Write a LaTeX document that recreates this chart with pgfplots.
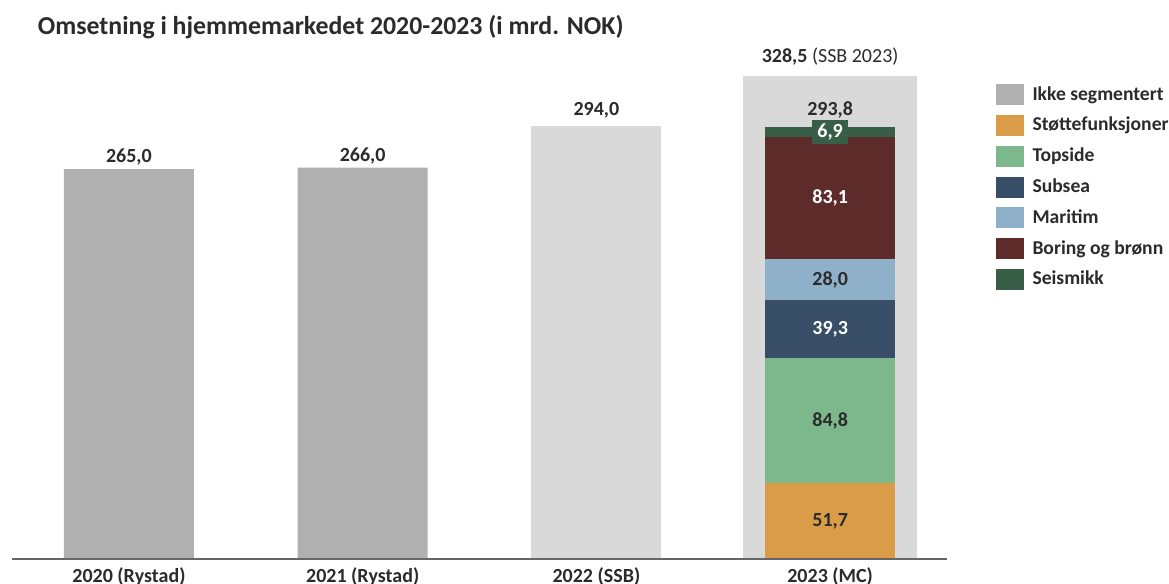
\documentclass[border=0pt]{standalone}
\usepackage{fontspec}
\setmainfont{Carlito}
\usepackage{pgfplots}
\pgfplotsset{compat=1.18}
\definecolor{gA}{HTML}{B0B0B0}
\definecolor{gB}{HTML}{D9D9D9}
\definecolor{stotte}{HTML}{DA9C48}
\definecolor{topside}{HTML}{7DB88C}
\definecolor{subsea}{HTML}{374E66}
\definecolor{maritim}{HTML}{8EB0C9}
\definecolor{boring}{HTML}{5E2B2B}
\definecolor{seismikk}{HTML}{385E48}
\definecolor{txt}{HTML}{2B2B2B}

\pgfplotsset{
  base/.style={
    scale only axis, width=467.5pt, height=253.85pt,
    xmin=-0.5, xmax=3.5, ymin=0, ymax=345, clip=false,
    font=\bfseries\fontsize{10}{12}\selectfont,
  },
  lbl/.style={draw=none, mark=none, nodes near coords,
    point meta=explicit symbolic},
  sq/.style={legend image code/.code={\fill[##1] (0pt,-5.25pt) rectangle (14pt,5.25pt);}},
}

\begin{document}
\begin{tikzpicture}
% grey totals and the SSB 2023 background bar
\begin{axis}[base, hide axis]
\addplot[ybar, bar shift=0pt, bar width=0.556, fill=gA, draw=none,
  nodes near coords, point meta=explicit symbolic,
  every node near coord/.append style={anchor=base, inner sep=0pt, yshift=3.2pt, text=txt}]
  coordinates {(0,265.0) [265,0] (1,266.0) [266,0]};
\addplot[ybar, bar shift=0pt, bar width=0.556, fill=gB, draw=none,
  nodes near coords, point meta=explicit symbolic,
  every node near coord/.append style={anchor=base, inner sep=0pt, yshift=5.6pt, text=txt}]
  coordinates {(2,294.0) [294,0]};
\addplot[ybar, bar shift=0pt, bar width=0.744, fill=gB, draw=none,
  nodes near coords={328,5 \mdseries(SSB 2023)},
  every node near coord/.append style={anchor=base, inner sep=0pt, yshift=6.3pt, text=txt}]
  coordinates {(3,328.5)};
\coordinate (O) at (axis cs:0,0);
\end{axis}

% 2023 segments
\begin{axis}[base, hide axis, ybar stacked, bar width=0.556,
  every axis plot post/.append style={sq},
  legend style={at={(axis description cs:1.0514,0.936)}, anchor=north west,
    draw=none, fill=none, inner sep=0pt, row sep=4.9pt,
    nodes={inner sep=0pt, text=txt}, column sep=4.5pt,
    font=\bfseries\fontsize{9.8}{12}\selectfont},
  legend cell align=left]
\addlegendimage{sq, fill=gA, draw=none}
\addlegendentry{Ikke segmentert}
\addplot[fill=stotte, draw=none] coordinates {(3,51.7)};
\addlegendentry{Støttefunksjoner}
\addplot[fill=topside, draw=none] coordinates {(3,84.8)};
\addlegendentry{Topside}
\addplot[fill=subsea, draw=none] coordinates {(3,39.3)};
\addlegendentry{Subsea}
\addplot[fill=maritim, draw=none] coordinates {(3,28.0)};
\addlegendentry{Maritim}
\addplot[fill=boring, draw=none] coordinates {(3,83.1)};
\addlegendentry{Boring og brønn}
\addplot[fill=seismikk, draw=none] coordinates {(3,6.9)};
\addlegendentry{Seismikk}
\end{axis}

% segment labels and category axis
\begin{axis}[base, axis x line*=bottom, axis y line=none,
  x axis line style={draw=black!60, line width=1pt, -},
  xtick={0,1,2,3}, major tick length=0pt, ytick=\empty,
  xticklabels={2020 (Rystad),2021 (Rystad),2022 (SSB),2023 (MC)},
  xticklabel style={text=txt, yshift=-1pt}]
\addplot[lbl, every node near coord/.append style={anchor=center, text=txt}]
  coordinates {(3,25.85) [51,7] (3,94.1) [84,8] (3,189.8) [28,0]};
\addplot[lbl, every node near coord/.append style={anchor=center, text=white}]
  coordinates {(3,156.15) [39,3] (3,245.35) [83,1]};
\addplot[lbl, every node near coord/.append style={anchor=center, text=white,
    fill=seismikk, inner xsep=2.5pt, inner ysep=2pt}]
  coordinates {(3,290.35) [6,9]};
\addplot[lbl, every node near coord/.append style={anchor=base, inner sep=0pt, yshift=5.6pt, text=txt}]
  coordinates {(3,293.8) [293,8]};
\end{axis}

\node[anchor=west, text=txt, font=\bfseries\fontsize{12.9}{15}\selectfont]
  at ([xshift=-49pt, yshift=266pt]O) {Omsetning i hjemmemarkedet 2020-2023 (i mrd. NOK)};
\pgfresetboundingbox
\path[use as bounding box] ([xshift=-64.45pt, yshift=-12.5pt]O) rectangle ++(584.5pt,292pt);
\end{tikzpicture}
\end{document}
